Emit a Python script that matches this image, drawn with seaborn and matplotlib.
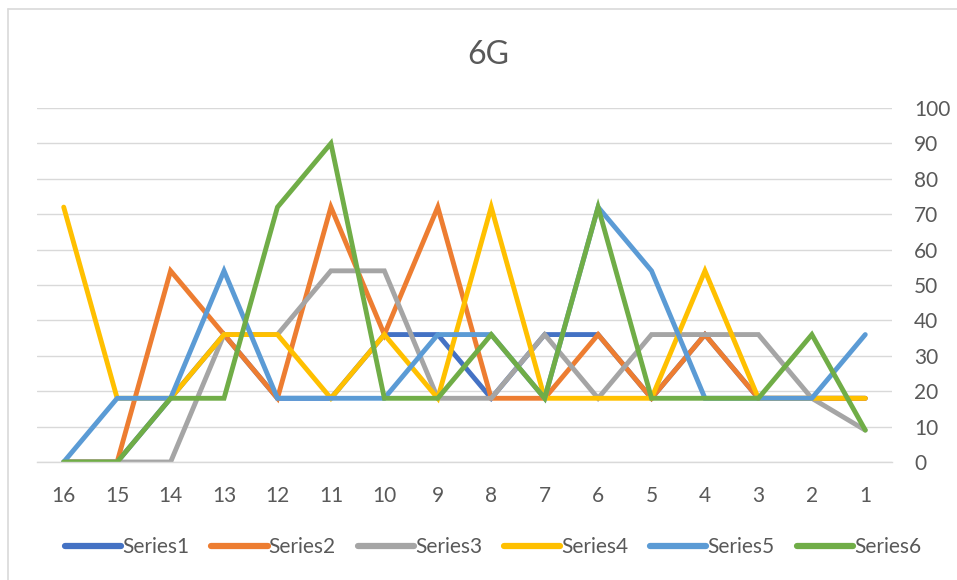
import numpy as np
import pandas as pd
import seaborn as sns
import matplotlib.pyplot as plt
from matplotlib.lines import Line2D

sns.set_style('white')
plt.rcParams['font.family'] = ['Lato', 'DejaVu Sans']

categories = ['16', '15', '14', '13', '12', '11', '10', '9',
              '8', '7', '6', '5', '4', '3', '2', '1']
series1 = [0, 0, 18, 36, 18, 18, 36, 36, 18, 36, 36, 18, 36, 18, 18, 18]
series2 = [0, 0, 54, 36, 18, 72, 36, 72, 18, 18, 36, 18, 36, 18, 18, 18]
series3 = [0, 0, 0, 36, 36, 54, 54, 18, 18, 36, 18, 36, 36, 36, 18, 9]
series4 = [72, 18, 18, 36, 36, 18, 36, 18, 72, 18, 18, 18, 54, 18, 18, 18]
series5 = [0, 18, 18, 54, 18, 18, 18, 36, 36, 18, 72, 54, 18, 18, 18, 36]
series6 = [0, 0, 18, 18, 72, 90, 18, 18, 36, 18, 72, 18, 18, 18, 36, 9]
names = ['Series1', 'Series2', 'Series3', 'Series4', 'Series5', 'Series6']
colors = ['#4472C4', '#ED7D31', '#A5A5A5', '#FFC000', '#5B9BD5', '#70AD47']

rows = []
for name, vals in zip(names, [series1, series2, series3, series4, series5, series6]):
    for i, v in enumerate(vals):
        rows.append({'pos': i, 'value': v, 'series': name})
df = pd.DataFrame(rows)

text_col = '#595959'
grid_col = '#D9D9D9'

fig = plt.figure(figsize=(9.57, 5.80), dpi=100)
ax = fig.add_axes([37 / 957, 1 - 462 / 580, (892 - 37) / 957, (462 - 108) / 580])

sns.lineplot(data=df, x='pos', y='value', hue='series', palette=colors,
             hue_order=names, linewidth=3.5, ax=ax, legend=False,
             solid_capstyle='round', solid_joinstyle='miter')

ax.set_xlim(-0.5, len(categories) - 0.5)
ax.set_ylim(0, 100)
ax.set_yticks(np.arange(0, 101, 10))
ax.yaxis.tick_right()
ax.tick_params(axis='y', length=0, pad=16, labelsize=15, labelcolor=text_col)
ax.set_xticks(range(len(categories)))
ax.set_xticklabels(categories)
ax.set_xticks(np.arange(-0.5, len(categories), 1), minor=True)
ax.tick_params(axis='x', which='major', length=0, pad=17, labelsize=15, labelcolor=text_col)
ax.tick_params(axis='x', which='minor', length=6, width=1, color=grid_col)
ax.grid(axis='y', color=grid_col, linewidth=1)
ax.set_axisbelow(True)
for side in ['top', 'left', 'right']:
    ax.spines[side].set_visible(False)
ax.spines['bottom'].set_color(grid_col)
ax.spines['bottom'].set_linewidth(1)
ax.set_xlabel('')
ax.set_ylabel('')

fig.text(488 / 957, 1 - 55 / 580, '6G', ha='center', va='center',
         fontsize=23, color=text_col)

handles = [Line2D([0], [0], color=c, lw=4.5, solid_capstyle='round') for c in colors]
fig.legend(handles, names, loc='center', bbox_to_anchor=(493 / 957, 1 - 547 / 580),
           ncol=6, frameon=False, fontsize=15, handlelength=2.7, handletextpad=0.05,
           columnspacing=1.05, labelcolor=text_col)

# chart border (Excel chart area)
fig.add_artist(Line2D([8 / 957, 8 / 957], [0, 1 - 9 / 580], color=grid_col, lw=1.2,
                      transform=fig.transFigure))
fig.add_artist(Line2D([8 / 957, 1], [1 - 9 / 580, 1 - 9 / 580], color=grid_col, lw=1.2,
                      transform=fig.transFigure))

fig.savefig('out.png', dpi=100)
